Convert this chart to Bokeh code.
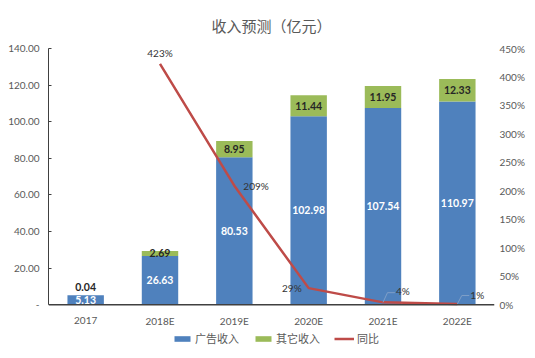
from bokeh.plotting import figure
from bokeh.core.properties import value
from bokeh.models import (FactorRange, Range1d, LinearAxis, FixedTicker, CustomJSTickFormatter,
                          PrintfTickFormatter, ColumnDataSource, LabelSet, Legend, LegendItem, Span)
from bokeh.transform import dodge
from bokeh.embed import file_html
from bokeh.resources import INLINE

# ---------------- data ----------------
categories = ["2017", "2018E", "2019E", "2020E", "2021E", "2022E"]
ad_revenue = [5.13, 26.63, 80.53, 102.98, 107.54, 110.97]      # 广告收入
other_revenue = [0.04, 2.69, 8.95, 11.44, 11.95, 12.33]        # 其它收入
yoy_categories = ["2018E", "2019E", "2020E", "2021E", "2022E"]
yoy_pct = [423, 209, 29, 4, 1]                                  # 同比 (%)
left_ticks = [0, 20, 40, 60, 80, 100, 120, 140]
right_ticks = [0, 50, 100, 150, 200, 250, 300, 350, 400, 450]

BLUE = "#4F81BD"
GREEN = "#9BBB59"
RED = "#BE4B48"
GRAY = "#595959"
CJK = "Noto Sans CJK SC"
NUMF = "Lato"

# layout (pixels): frame from y=47 to y=346; the value axis spans 47..304
TOP, ZERO, BOTTOM = 47, 304, 346
LMAX, RMAX = 140, 450
l_low = -(BOTTOM - ZERO) * LMAX / (ZERO - TOP)
r_low = -(BOTTOM - ZERO) * RMAX / (ZERO - TOP)

p = figure(x_range=FactorRange(*categories), y_range=Range1d(l_low, LMAX),
           width=527, height=350, output_backend="svg", toolbar_location=None,
           x_axis_location=None,
           min_border_left=48, min_border_right=30, min_border_top=TOP,
           min_border_bottom=350 - BOTTOM)
p.extra_y_ranges = {"pct": Range1d(r_low, RMAX)}

p.title.text = "收入预测（亿元）"
p.title.align = "center"
p.title.text_font = CJK
p.title.text_font_size = "15px"
p.title.text_font_style = "normal"
p.title.text_color = GRAY
p.title.standoff = 25

p.outline_line_color = None
p.xgrid.visible = False
p.ygrid.visible = False

# category axis line at zero and category labels
p.add_layout(Span(location=0, dimension="width", line_color="#404040", line_width=1.5))
cat_lab = ColumnDataSource(dict(cat=categories, y=[0 for _ in categories]))
p.add_layout(LabelSet(x="cat", y="y", text="cat", source=cat_lab, y_offset=-16,
                      text_align="center", text_baseline="middle", text_color=GRAY,
                      text_font=value(NUMF), text_font_size="10px"))

# ---------------- bars ----------------
src = ColumnDataSource(dict(cat=categories, ad=ad_revenue, other=other_revenue))
bars = p.vbar_stack(["ad", "other"], x="cat", width=0.49, color=[BLUE, GREEN],
                    line_color=None, source=src)

# bar labels
ad_lab = ColumnDataSource(dict(cat=categories, y=[v / 2 for v in ad_revenue],
                               t=["%.2f" % v for v in ad_revenue]))
p.add_layout(LabelSet(x="cat", y="y", text="t", source=ad_lab, text_align="center",
                      text_baseline="middle", text_color="white", text_font=value(NUMF),
                      text_font_style="bold", text_font_size="10.5px"))
oth_y = []
for a, o in zip(ad_revenue, other_revenue):
    oth_y.append(a + o / 2 if o > 1 else a + o + 4.2)
oth_lab = ColumnDataSource(dict(cat=categories, y=oth_y, t=["%.2f" % v for v in other_revenue]))
p.add_layout(LabelSet(x="cat", y="y", text="t", source=oth_lab, text_align="center",
                      text_baseline="middle", text_color="#262626", text_font=value(NUMF),
                      text_font_style="bold", text_font_size="10.5px"))

# ---------------- line ----------------
line = p.line(x=yoy_categories, y=yoy_pct, y_range_name="pct", line_width=2.5, color=RED)

# leader lines for the two smallest values
small = ColumnDataSource(dict(x=yoy_categories[-2:], y=yoy_pct[-2:], ly=[21, 16]))
p.segment(x0=dodge("x", 0.0, range=p.x_range), y0="y",
          x1=dodge("x", 0.06, range=p.x_range), y1="ly",
          source=small, y_range_name="pct", line_color="#7F9FC8", line_width=1)
p.segment(x0=dodge("x", 0.06, range=p.x_range), y0="ly",
          x1=dodge("x", 0.16, range=p.x_range), y1="ly",
          source=small, y_range_name="pct", line_color="#7F9FC8", line_width=1)

line_lab = ColumnDataSource(dict(
    x=yoy_categories, y=yoy_pct, t=["%d%%" % v for v in yoy_pct],
    xo=[0, 9, -7, 13, 13], yo=[11, 0, 0, 11, 9],
    al=["center", "left", "right", "left", "left"]))
p.add_layout(LabelSet(x="x", y="y", text="t", source=line_lab, y_range_name="pct",
                      x_offset="xo", y_offset="yo", text_align="al", text_baseline="middle",
                      text_color="#333333", text_font=value(NUMF), text_font_size="10px"))

# ---------------- axes ----------------
ly = p.yaxis[0]
ly.ticker = FixedTicker(ticks=left_ticks)
ly.bounds = (0, LMAX)
ly.formatter = CustomJSTickFormatter(code="return tick == 0 ? '-' : tick.toFixed(2);")
ly.axis_line_color = "#404040"
ly.major_tick_in = 3
ly.major_tick_out = 0
ly.major_tick_line_color = "#404040"
ly.minor_tick_line_color = None
ly.minor_tick_out = 0
ly.major_label_text_font = NUMF
ly.major_label_text_font_size = "10px"
ly.major_label_text_color = GRAY
ly.major_label_standoff = 9

ry = LinearAxis(y_range_name="pct", ticker=FixedTicker(ticks=right_ticks),
                formatter=PrintfTickFormatter(format="%d%%"))
ry.bounds = (0, RMAX)
ry.axis_line_color = None
ry.major_tick_line_color = None
ry.minor_tick_line_color = None
ry.major_tick_out = 0
ry.minor_tick_out = 0
ry.major_label_text_font = NUMF
ry.major_label_text_font_size = "10px"
ry.major_label_text_color = GRAY
ry.major_label_standoff = 5
p.add_layout(ry, "right")

# ---------------- legend ----------------
legend = Legend(items=[LegendItem(label="广告收入", renderers=[bars[0]]),
                       LegendItem(label="其它收入", renderers=[bars[1]]),
                       LegendItem(label="同比", renderers=[line])],
                orientation="horizontal", location=(124, 0),
                border_line_color=None, background_fill_alpha=0,
                label_text_font=CJK, label_text_font_size="11px", label_text_color=GRAY,
                label_height=14, glyph_width=20, glyph_height=7, spacing=14,
                label_standoff=3, padding=0, margin=0)
p.add_layout(legend)

open("out.html", "w").write(file_html(p, INLINE))
